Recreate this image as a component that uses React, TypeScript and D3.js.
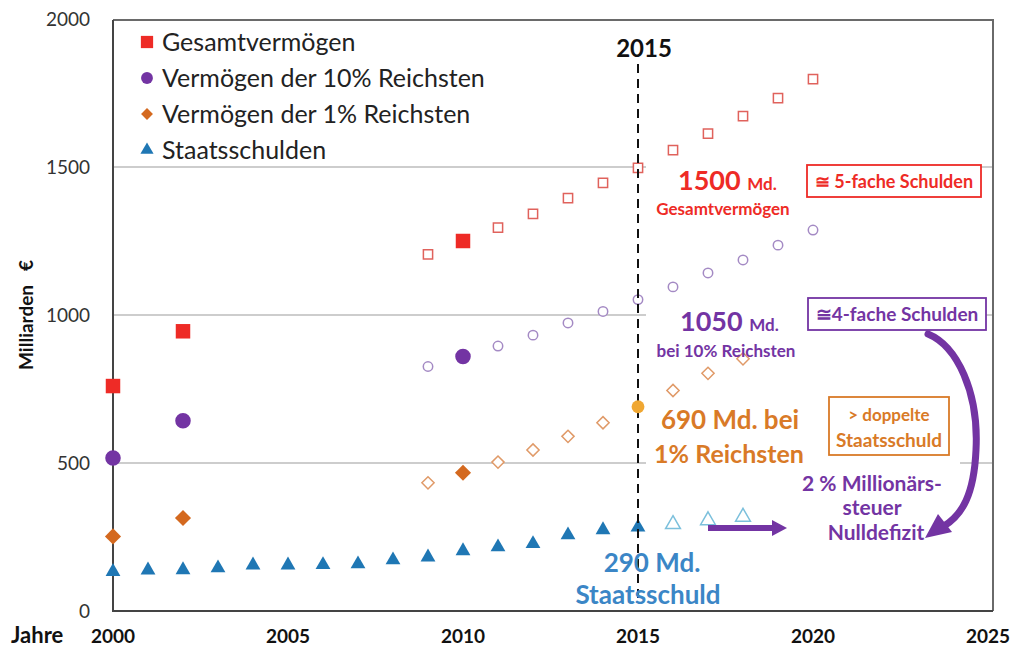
import { useEffect, useRef } from 'react';
import * as d3 from 'd3';

// filled = known values, hollow = projection
const gesamtYears = [2000, 2002, 2010];
const gesamtValues = [760, 945, 1250];
const gesamtProjYears = [2009, 2011, 2012, 2013, 2014, 2015, 2016, 2017, 2018, 2019, 2020];
const gesamtProjValues = [1205, 1295, 1342, 1395, 1446, 1497, 1557, 1613, 1672, 1733, 1797];

const top10Years = [2000, 2002, 2010];
const top10Values = [517, 643, 860];
const top10ProjYears = [2009, 2011, 2012, 2013, 2014, 2015, 2016, 2017, 2018, 2019, 2020];
const top10ProjValues = [826, 895, 932, 973, 1012, 1052, 1095, 1142, 1186, 1236, 1287];

const top1Years = [2000, 2002, 2010];
const top1Values = [252, 314, 467];
const top1ProjYears = [2009, 2011, 2012, 2013, 2014, 2016, 2017, 2018];
const top1ProjValues = [433, 503, 544, 590, 636, 745, 803, 852];
const top1Highlight = { year: 2015, value: 690 };

const debtYears = [2000, 2001, 2002, 2003, 2004, 2005, 2006, 2007, 2008, 2009, 2010, 2011, 2012, 2013, 2014, 2015];
const debtValues = [133, 138, 139, 145, 155, 155, 156, 159, 172, 182, 203, 216, 227, 257, 274, 283];
const debtProjYears = [2016, 2017, 2018];
const debtProjValues = [293, 306, 318];

const legendLabels = ['Gesamtvermögen', 'Vermögen der 10% Reichsten', 'Vermögen der 1% Reichsten', 'Staatsschulden'];
const yTicks = [0, 500, 1000, 1500, 2000];
const xTicks = [2000, 2005, 2010, 2015, 2020, 2025];

const RED = '#ee2b26';
const PURPLE = '#7334a3';
const ORANGE = '#d4691f';
const ORANGE_TXT = '#d97a27';
const BLUE = '#1f77b4';
const FONT = 'Lato, "Noto Sans", sans-serif';

function App() {
  const svgRef = useRef<SVGSVGElement>(null);

  useEffect(() => {
    const svg = d3.select(svgRef.current)
      .attr('width', 1016)
      .attr('height', 647)
      .style('font-family', FONT);

    svg.selectAll('*').remove();

    const left = 113, right = 993, top = 20, bottom = 611;

    const x = d3.scaleLinear().domain([2000, 2025]).range([113, 988]);
    const y = d3.scaleLinear().domain([0, 2000]).range([bottom, 19]);

    svg.append('rect').attr('width', 1016).attr('height', 647).attr('fill', '#fff');

    // grid
    svg.append('g')
      .selectAll('line')
      .data([500, 1000, 1500])
      .join('line')
      .attr('x1', left).attr('x2', right)
      .attr('y1', d => y(d)).attr('y2', d => y(d))
      .attr('stroke', '#bdbdbd').attr('stroke-width', 1.5);

    // plot frame
    svg.append('path')
      .attr('d', `M${left},${top}H${right}V${bottom}`)
      .attr('fill', 'none').attr('stroke', '#6a6a6a').attr('stroke-width', 2);
    svg.append('path')
      .attr('d', `M${left},${top}V${bottom}H${right}`)
      .attr('fill', 'none').attr('stroke', '#444').attr('stroke-width', 2);

    // y axis labels
    svg.append('g')
      .selectAll('text')
      .data(yTicks)
      .join('text')
      .attr('x', 90).attr('y', d => y(d))
      .attr('dy', '0.35em')
      .attr('text-anchor', 'end')
      .attr('font-size', 19)
      .attr('fill', '#333')
      .text(d => d);

    svg.append('text')
      .attr('transform', 'translate(33,315) rotate(-90)')
      .attr('text-anchor', 'middle')
      .style('white-space', 'pre')
      .attr('font-size', 19).attr('font-weight', 'bold').attr('fill', '#111')
      .text('Milliarden   €');

    // x axis labels
    svg.append('g')
      .selectAll('text')
      .data(xTicks)
      .join('text')
      .attr('x', d => x(d)).attr('y', 643)
      .attr('text-anchor', 'middle')
      .attr('font-size', 19).attr('font-weight', 'bold').attr('fill', '#111')
      .text(d => d);
    svg.append('text')
      .attr('x', 11).attr('y', 643)
      .attr('font-size', 22).attr('font-weight', 'bold').attr('fill', '#111')
      .text('Jahre');

    // white backgrounds behind the annotations (they cut the grid)
    const bgs = [[646, 160, 162, 60], [646, 300, 162, 60], [646, 400, 314, 145]];
    bgs.forEach(([bx, by, bw, bh]) => {
      svg.append('rect').attr('x', bx).attr('y', by).attr('width', bw).attr('height', bh).attr('fill', '#fff');
    });

    const sym = (type: d3.SymbolType, size: number) => d3.symbol().type(type).size(size)();

    const drawSeries = (years: number[], values: number[], type: d3.SymbolType, size: number, fill: string, stroke: string, sw: number) => {
      svg.append('g')
        .selectAll('path')
        .data(years.map((yr, i) => [yr, values[i]]))
        .join('path')
        .attr('transform', d => `translate(${x(d[0])},${y(d[1])})`)
        .attr('d', sym(type, size))
        .attr('fill', fill)
        .attr('stroke', stroke)
        .attr('stroke-width', sw);
    };

    // projections (hollow)
    drawSeries(gesamtProjYears, gesamtProjValues, d3.symbolSquare, 85, '#fff', '#e0625c', 1.5);
    drawSeries(top10ProjYears, top10ProjValues, d3.symbolCircle, 70, '#fff', '#a48ac4', 1.5);
    drawSeries(top1ProjYears, top1ProjValues, d3.symbolDiamond2, 95, '#fff', '#e09a68', 1.5);
    drawSeries(debtProjYears, debtProjValues, d3.symbolTriangle, 95, '#fff', '#7cc0dc', 1.5);

    // actual (filled)
    drawSeries(gesamtYears, gesamtValues, d3.symbolSquare, 210, RED, 'none', 0);
    drawSeries(top10Years, top10Values, d3.symbolCircle, 190, PURPLE, 'none', 0);
    drawSeries(top1Years, top1Values, d3.symbolDiamond2, 165, ORANGE, 'none', 0);
    drawSeries(debtYears, debtValues, d3.symbolTriangle, 95, BLUE, 'none', 0);

    // 2015 marker line
    svg.append('line')
      .attr('x1', x(2015)).attr('x2', x(2015))
      .attr('y1', 64).attr('y2', 598)
      .attr('stroke', '#111').attr('stroke-width', 2).attr('stroke-dasharray', '9,6');
    svg.append('path')
      .attr('transform', `translate(${x(top1Highlight.year)},${y(top1Highlight.value)})`)
      .attr('d', sym(d3.symbolCircle, 130))
      .attr('fill', '#f0a732');
    svg.append('text')
      .attr('x', x(2015) + 6).attr('y', 57)
      .attr('text-anchor', 'middle')
      .attr('font-size', 24).attr('font-weight', 'bold').attr('fill', '#111')
      .text('2015');

    // legend
    const legendSyms = [d3.symbolSquare, d3.symbolCircle, d3.symbolDiamond2, d3.symbolTriangle];
    const legendCols = [RED, PURPLE, ORANGE, BLUE];
    const legendSizes = [150, 110, 90, 75];
    legendLabels.forEach((lab, i) => {
      const ly = 42 + i * 36;
      svg.append('path')
        .attr('transform', `translate(147,${ly})`)
        .attr('d', sym(legendSyms[i], legendSizes[i]))
        .attr('fill', legendCols[i]);
      svg.append('text')
        .attr('x', 162).attr('y', ly)
        .attr('dy', '0.35em')
        .attr('font-size', 25).attr('fill', '#222')
        .text(lab);
    });

    const txt = (tx: number, ty: number, s: string, size: number, col: string, anchor = 'middle') =>
      svg.append('text')
        .attr('x', tx).attr('y', ty)
        .attr('text-anchor', anchor)
        .attr('font-size', size).attr('font-weight', 'bold').attr('fill', col)
        .text(s);

    const box = (bx: number, by: number, bw: number, bh: number, col: string) =>
      svg.append('rect')
        .attr('x', bx).attr('y', by).attr('width', bw).attr('height', bh)
        .attr('fill', '#fff').attr('stroke', col).attr('stroke-width', 1.8);

    // Gesamtvermögen
    const t1 = txt(678, 190, '', 27, RED, 'start');
    t1.append('tspan').text('1500 ');
    t1.append('tspan').attr('font-size', 17).text('Md.');
    txt(723, 215, 'Gesamtvermögen', 17, RED);
    box(807, 165, 174, 32, RED);
    txt(894, 188, '≅ 5-fache Schulden', 18, RED);

    // 10%
    const t2 = txt(680, 331, '', 27, PURPLE, 'start');
    t2.append('tspan').text('1050 ');
    t2.append('tspan').attr('font-size', 17).text('Md.');
    txt(726, 357, 'bei 10% Reichsten', 17, PURPLE);
    box(808, 298, 178, 32, PURPLE);
    txt(897, 321, '≅4-fache Schulden', 19, PURPLE);

    // 1%
    txt(730, 429, '690 Md. bei', 26, ORANGE_TXT);
    txt(729, 463, '1% Reichsten', 25, ORANGE_TXT);
    box(829, 397, 120, 58, ORANGE_TXT);
    txt(889, 421, '> doppelte', 17, ORANGE_TXT);
    txt(889, 447, 'Staatsschuld', 19, ORANGE_TXT);

    // Millionärssteuer
    txt(872, 491, '2 % Millionärs-', 21, PURPLE);
    txt(872, 515, 'steuer', 21, PURPLE);
    txt(876, 540, 'Nulldefizit', 21, PURPLE);

    // Staatsschuld
    txt(652, 572, '290 Md.', 26, '#3b86c6');
    txt(648, 604, 'Staatsschuld', 26, '#3b86c6');

    // straight arrow
    svg.append('line')
      .attr('x1', 708).attr('x2', 774).attr('y1', 528).attr('y2', 528)
      .attr('stroke', PURPLE).attr('stroke-width', 6);
    svg.append('path')
      .attr('d', 'M772,520L787,528L772,536Z')
      .attr('fill', PURPLE);

    // curved arrow
    svg.append('path')
      .attr('d', 'M928,334 C957,346 979,392 976,450 C974,495 962,515 944,526')
      .attr('fill', 'none').attr('stroke', PURPLE).attr('stroke-width', 7).attr('stroke-linecap', 'round');
    svg.append('path')
      .attr('d', 'M925,538L938,514L952,532Z')
      .attr('fill', PURPLE);
  }, []);

  return (
    <div style={{ position: 'absolute', left: 0, top: 0 }}>
      <svg ref={svgRef}></svg>
    </div>
  );
}

export default App;
